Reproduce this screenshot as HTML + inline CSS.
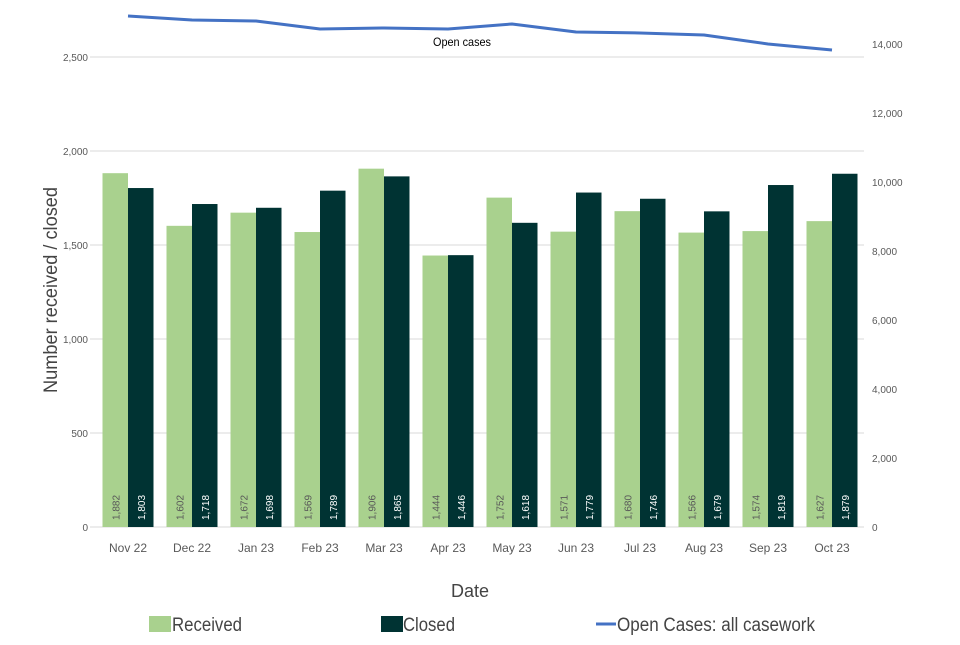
<!DOCTYPE html>
<html><head><meta charset="utf-8"><style>
body{margin:0;background:#fff;}
svg text{font-family:"Liberation Sans Narrow","Liberation Sans",sans-serif;}
</style></head><body>
<svg id="chart" width="960" height="640" viewBox="0 0 960 640">
<g id="grid"></g>
<g id="bars"></g>
<g id="axes"></g>
<g id="line"></g>
<text x="433" y="46" font-size="12" fill="#000" textLength="58" lengthAdjust="spacingAndGlyphs">Open cases</text>
<text transform="translate(57,290) rotate(-90)" text-anchor="middle" font-size="19" fill="#444" textLength="206" lengthAdjust="spacingAndGlyphs">Number received / closed</text>
<text x="470" y="597" text-anchor="middle" font-size="18" fill="#444">Date</text>
<g>
<g><rect x="149" y="616" width="22" height="16" fill="#a9d18e"/><text x="172" y="631" font-size="19" fill="#444" textLength="70" lengthAdjust="spacingAndGlyphs">Received</text></g>
<g><rect x="381" y="616" width="22" height="16" fill="#003333"/><text x="403" y="631" font-size="19" fill="#444" textLength="52" lengthAdjust="spacingAndGlyphs">Closed</text></g>
<g><line x1="596" y1="624" x2="616" y2="624" stroke="#4472c4" stroke-width="3"/><text x="617" y="631" font-size="19" fill="#444" textLength="198" lengthAdjust="spacingAndGlyphs">Open Cases: all casework</text></g>
</g>
</svg>
<script>
const categories=["Nov 22","Dec 22","Jan 23","Feb 23","Mar 23","Apr 23","May 23","Jun 23","Jul 23","Aug 23","Sep 23","Oct 23"];
const received=[1882,1602,1672,1569,1906,1444,1752,1571,1680,1566,1574,1627];
const closed=[1803,1718,1698,1789,1865,1446,1618,1779,1746,1679,1819,1879];
const openCases=[14812,14696,14667,14435,14464,14435,14580,14348,14319,14261,14000,13826];
const leftTicks=[0,500,1000,1500,2000,2500];
const rightTicks=[0,2000,4000,6000,8000,10000,12000,14000];
const NS="http://www.w3.org/2000/svg";
const x0=96,step=64,bw=25.5,yBase=527;
const yL=v=>yBase-v*(470/2500);
const yR=v=>yBase-v*(69/2000);
const xc=i=>x0+step*i+step/2;
const fmt=v=>v.toLocaleString("en-US");
function mk(tag,attrs,parent){const e=document.createElementNS(NS,tag);for(const k in attrs)e.setAttribute(k,attrs[k]);parent.appendChild(e);return e;}
const grid=document.getElementById("grid"),bars=document.getElementById("bars"),axes=document.getElementById("axes"),lineG=document.getElementById("line");
leftTicks.forEach(t=>{
  const l=mk("line",{x1:90,x2:864,y1:yL(t),y2:yL(t),stroke:"#d9d9d9","stroke-width":1},grid);
  
  
  const tx=mk("text",{x:88,y:yL(t)+4,"text-anchor":"end","font-size":10,fill:"#595959"},axes);
  tx.textContent=fmt(t);
  
  
});
rightTicks.forEach(t=>{
  const tx=mk("text",{x:872,y:yR(t)+4,"font-size":10,fill:"#595959"},axes);
  tx.textContent=fmt(t);
  
  
});
categories.forEach((c,i)=>{
  const cx=xc(i);
  const r=mk("rect",{x:cx-bw,y:yL(received[i]),width:bw,height:yBase-yL(received[i]),fill:"#a9d18e"},bars);
  
  
  const k=mk("rect",{x:cx,y:yL(closed[i]),width:bw,height:yBase-yL(closed[i]),fill:"#003333"},bars);
  
  
  const t1=mk("text",{transform:`translate(${cx-bw/2+4},${yBase-7}) rotate(-90)`,"font-size":10,fill:"#595959"},bars);
  t1.textContent=fmt(received[i]);
  
  
  const t2=mk("text",{transform:`translate(${cx+bw/2+4},${yBase-7}) rotate(-90)`,"font-size":10,fill:"#fff"},bars);
  t2.textContent=fmt(closed[i]);
  
  
  const cl=mk("text",{x:cx,y:552,"text-anchor":"middle","font-size":12,fill:"#595959"},axes);
  cl.textContent=c;
  
  
});
const pts=openCases.map((v,i)=>xc(i)+","+yR(v)).join(" ");
const pl=mk("polyline",{points:pts,fill:"none",stroke:"#4472c4","stroke-width":3,"stroke-linejoin":"round"},lineG);


</script>
</body></html>
